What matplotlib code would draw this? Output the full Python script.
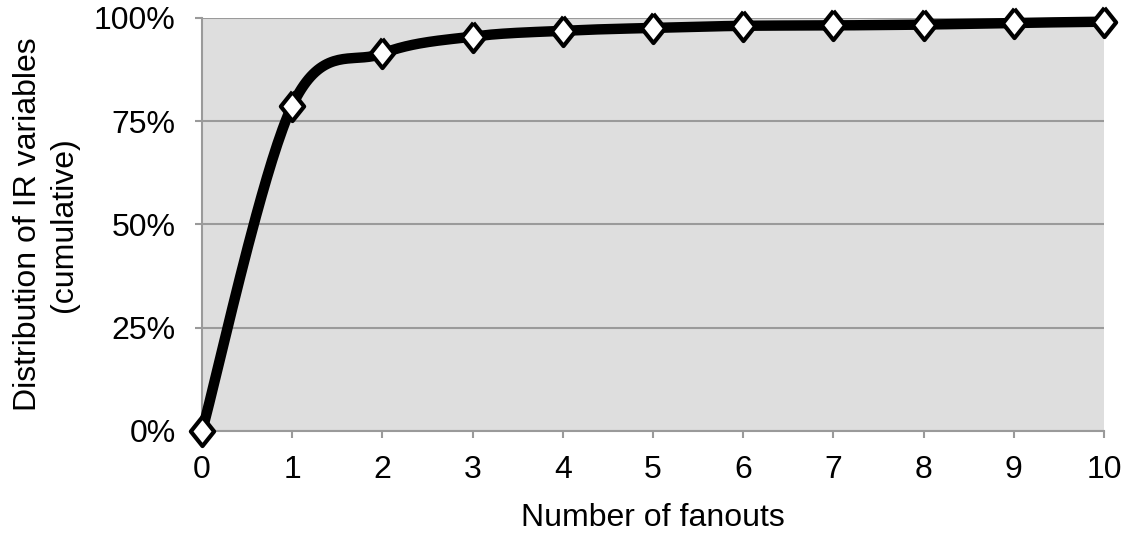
import numpy as np
import matplotlib.pyplot as plt
from matplotlib.ticker import PercentFormatter

# data (cumulative share, %)
fanouts = [0, 1, 2, 3, 4, 5, 6, 7, 8, 9, 10]
cumulative = [0.0, 78.8, 91.4, 95.5, 96.9, 97.6, 98.1, 98.2, 98.4, 98.8, 99.1]
y_ticks = [0, 25, 50, 75, 100]


def smooth_curve(x, y, steps=40):
    """Excel style smoothed line: cubic bezier with 1/6 neighbour tangents."""
    pts = np.column_stack([x, y]).astype(float)
    n = len(pts)
    out = [pts[0]]
    for i in range(n - 1):
        p0 = pts[max(i - 1, 0)]
        p1 = pts[i]
        p2 = pts[i + 1]
        p3 = pts[min(i + 2, n - 1)]
        c1 = p1 + (p2 - p0) / 6.0
        c2 = p2 - (p3 - p1) / 6.0
        t = np.linspace(0, 1, steps)[1:, None]
        seg = ((1 - t) ** 3) * p1 + 3 * ((1 - t) ** 2) * t * c1 \
            + 3 * (1 - t) * t ** 2 * c2 + t ** 3 * p2
        out.extend(seg)
    out = np.array(out)
    return out[:, 0], out[:, 1]


plt.rcParams['font.family'] = ['Liberation Sans', 'DejaVu Sans']
plt.rcParams['font.size'] = 23

fig = plt.figure(figsize=(11.25, 5.35), dpi=100)
ax = fig.add_axes([0.1796, 0.1944, 0.9813 - 0.1796, 0.9664 - 0.1944])
ax.set_facecolor("#dedede")

grid_color = "#9a9a9a"
for v in y_ticks:
    ax.axhline(v, color=grid_color, lw=1.5, zorder=1)

sx, sy = smooth_curve(fanouts, cumulative)
ax.plot(sx, sy, color="black", lw=7.5, solid_capstyle="round", zorder=3, clip_on=False)

diamond = [(0, 1), (0.8, 0), (0, -1), (-0.8, 0), (0, 1)]
ax.plot(fanouts, cumulative, linestyle="none", marker=diamond, markersize=21,
        markerfacecolor="white", markeredgecolor="black", markeredgewidth=3,
        zorder=4, clip_on=False)

ax.set_xlim(0, 10)
ax.set_ylim(0, 100)
ax.set_xticks(fanouts)
ax.set_yticks(y_ticks)
ax.yaxis.set_major_formatter(PercentFormatter(decimals=0))

for side in ["top", "right"]:
    ax.spines[side].set_visible(False)
for side in ["left", "bottom"]:
    ax.spines[side].set_color(grid_color)
    ax.spines[side].set_linewidth(1.5)

ax.tick_params(axis="both", direction="out", length=5, width=1.5, color=grid_color)
ax.tick_params(axis="x", pad=12)
ax.tick_params(axis="y", pad=14)

ax.set_xlabel("Number of fanouts", labelpad=13)
ax.set_ylabel("Distribution of IR variables\n(cumulative)", labelpad=11, linespacing=1.25)

fig.savefig("out.png", dpi=100)
